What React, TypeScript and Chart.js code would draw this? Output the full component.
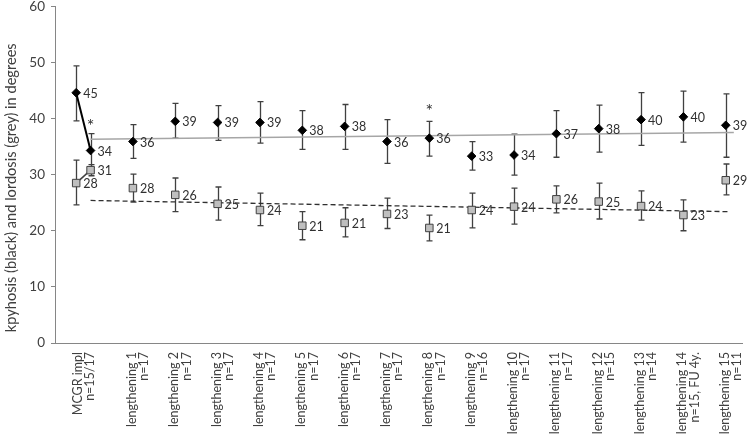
import React, { useEffect, useRef } from 'react';
import { Chart, registerables } from 'chart.js';
Chart.register(...registerables);

const categories: string[][] = [
  ['MCGR impl', 'n=15/17'],
  ['lengthening 1', 'n=17'],
  ['lengthening 2', 'n=17'],
  ['lengthening 3', 'n=17'],
  ['lengthening 4', 'n=17'],
  ['lengthening 5', 'n=17'],
  ['lengthening 6', 'n=17'],
  ['lengthening 7', 'n=17'],
  ['lengthening 8', 'n=17'],
  ['lengthening 9', 'n=16'],
  ['lengthening 10', 'n=17'],
  ['lengthening 11', 'n=17'],
  ['lengthening 12', 'n=15'],
  ['lengthening 13', 'n=14'],
  ['lengthening 14', 'n=15, FU 4y.'],
  ['lengthening 15', 'n=11'],
];
const tickPositions = [-0.27, 1, 2, 3, 4, 5, 6, 7, 8, 9, 10, 11, 12, 13, 14, 15];
const xPositions = [-0.34, 0, 1, 2, 3, 4, 5, 6, 7, 8, 9, 10, 11, 12, 13, 14, 15];

const kyphosis = [44.6, 34.3, 35.9, 39.5, 39.3, 39.3, 37.9, 38.6, 35.9, 36.5, 33.3, 33.5, 37.3, 38.2, 39.8, 40.3, 38.8];
const kyphosisHigh = [49.4, 37.3, 38.9, 42.7, 42.3, 43.0, 41.4, 42.5, 39.8, 39.5, 35.9, 37.2, 41.4, 42.4, 44.6, 44.9, 44.4];
const kyphosisLow = [39.6, 31.3, 32.9, 36.5, 36.1, 35.6, 34.5, 34.5, 32.0, 33.3, 30.8, 29.9, 33.1, 34.0, 35.2, 35.8, 33.1];
const kyphosisLabels = ['45', '34', '36', '39', '39', '39', '38', '38', '36', '36', '33', '34', '37', '38', '40', '40', '39'];

const lordosis = [28.5, 30.8, 27.6, 26.4, 24.8, 23.7, 20.9, 21.4, 23.0, 20.5, 23.7, 24.3, 25.6, 25.2, 24.4, 22.8, 29.0];
const lordosisHigh = [32.6, 31.8, 30.1, 29.4, 27.8, 26.7, 23.4, 24.1, 25.8, 22.8, 26.7, 27.6, 28.0, 28.5, 27.1, 25.5, 31.9];
const lordosisLow = [24.6, 29.8, 25.1, 23.4, 21.9, 20.9, 18.4, 18.9, 20.4, 18.2, 20.5, 21.2, 23.2, 22.1, 21.9, 20.0, 26.4];
const lordosisLabels = ['28', '31', '28', '26', '25', '24', '21', '21', '23', '21', '24', '24', '26', '25', '24', '23', '29'];

const kyphosisTrendX = [0, 15.19];
const kyphosisTrend = [36.3, 37.5];
const lordosisTrendX = [0, 15.1];
const lordosisTrend = [25.4, 23.4];

const asteriskX = [0, 8];
const asteriskY = [39.3, 42.0];

const yTitle = 'kpyhosis (black) and lordosis (grey) in degrees       ';
const FONT = 'Lato';
const TEXT = '#404040';
const AXIS = '#868686';

const overlayPlugin = {
  id: 'overlay',
  beforeDatasetsDraw(chart: any) {
    const ctx = chart.ctx;
    const xs = chart.scales.x;
    const ys = chart.scales.y;
    ctx.save();
    ctx.strokeStyle = '#404040';
    ctx.lineWidth = 1.3;
    const sets = [
      { hi: lordosisHigh, lo: lordosisLow },
      { hi: kyphosisHigh, lo: kyphosisLow },
    ];
    sets.forEach(({ hi, lo }) => {
      xPositions.forEach((xv, i) => {
        const px = Math.round(xs.getPixelForValue(xv)) + 0.5;
        const y1 = ys.getPixelForValue(hi[i]);
        const y2 = ys.getPixelForValue(lo[i]);
        ctx.beginPath();
        ctx.moveTo(px, y1);
        ctx.lineTo(px, y2);
        ctx.moveTo(px - 3, y1);
        ctx.lineTo(px + 3, y1);
        ctx.moveTo(px - 3, y2);
        ctx.lineTo(px + 3, y2);
        ctx.stroke();
      });
    });
    ctx.restore();
  },
  afterDatasetsDraw(chart: any) {
    const ctx = chart.ctx;
    const xs = chart.scales.x;
    const ys = chart.scales.y;
    ctx.save();
    ctx.fillStyle = '#303030';
    ctx.font = `12.5px ${FONT}`;
    ctx.textAlign = 'left';
    ctx.textBaseline = 'middle';
    const put = (vals: number[], labels: string[]) => {
      xPositions.forEach((xv, i) => {
        ctx.fillText(labels[i], xs.getPixelForValue(xv) + 7, ys.getPixelForValue(vals[i]) + 1);
      });
    };
    put(kyphosis, kyphosisLabels);
    put(lordosis, lordosisLabels);
    ctx.textAlign = 'center';
    ctx.font = `18px ${FONT}`;
    asteriskX.forEach((xv, i) => {
      ctx.fillText('*', xs.getPixelForValue(xv), ys.getPixelForValue(asteriskY[i]) + 4);
    });
    ctx.restore();
  },
};

export default function App() {
  const ref = useRef<HTMLCanvasElement | null>(null);
  useEffect(() => {
    if (!ref.current) return;
    const toPts = (xa: number[], ya: number[]) => xa.map((x, i) => ({ x, y: ya[i] }));
    const chart = new Chart(ref.current, {
      type: 'scatter',
      data: {
        datasets: [
          {
            label: 'kyphosis',
            data: toPts(xPositions, kyphosis),
            showLine: true,
            borderColor: '#000',
            borderWidth: 2,
            segment: { borderColor: (c: any) => (c.p0DataIndex === 0 ? '#000' : 'rgba(0,0,0,0)') },
            pointStyle: 'rectRot',
            pointRadius: 4.3,
            pointBackgroundColor: '#000',
            pointBorderColor: '#000',
            pointBorderWidth: 1,
          },
          {
            label: 'lordosis',
            data: toPts(xPositions, lordosis),
            showLine: true,
            borderColor: '#404040',
            borderWidth: 1.5,
            segment: { borderColor: (c: any) => (c.p0DataIndex === 0 ? '#404040' : 'rgba(0,0,0,0)') },
            pointStyle: 'rect',
            pointRadius: 5.3,
            pointBackgroundColor: '#bfbfbf',
            pointBorderColor: '#404040',
            pointBorderWidth: 1,
          },
          {
            label: 'kyphosis trend',
            data: toPts(kyphosisTrendX, kyphosisTrend),
            showLine: true,
            borderColor: '#a6a6a6',
            borderWidth: 1.5,
            pointRadius: 0,
          },
          {
            label: 'lordosis trend',
            data: toPts(lordosisTrendX, lordosisTrend),
            showLine: true,
            borderColor: '#303030',
            borderWidth: 1.3,
            borderDash: [5, 3],
            pointRadius: 0,
          },
        ],
      } as any,
      options: {
        animation: false,
        responsive: false,
        maintainAspectRatio: false,
        layout: { padding: { top: 4, right: 5, left: 0, bottom: 0 } },
        plugins: { legend: { display: false }, tooltip: { enabled: false } },
        scales: {
          x: {
            type: 'linear',
            min: -0.84,
            max: 15.4,
            afterBuildTicks: (s: any) => {
              s.ticks = tickPositions.map((v) => ({ value: v }));
            },
            afterFit: (s: any) => {
              s.height = 92;
              s.paddingLeft = 0;
              s.paddingRight = 0;
            },
            ticks: {
              autoSkip: false,
              minRotation: 90,
              maxRotation: 90,
              padding: 9,
              labelOffset: -1,
              color: TEXT,
              font: { family: FONT, size: 12.5, lineHeight: 0.98 },
              callback: (_v: any, i: number) => categories[i],
            },
            grid: { display: false, drawTicks: false },
            border: { display: true, color: AXIS, width: 1 },
          },
          y: {
            min: 0,
            max: 60,
            afterFit: (s: any) => {
              s.width = 55;
              s.paddingTop = 0;
              s.paddingBottom = 0;
            },
            ticks: {
              stepSize: 10,
              padding: 6,
              color: TEXT,
              font: { family: FONT, size: 13.5 },
            },
            grid: { display: true, drawOnChartArea: false, drawTicks: true, tickLength: 4, color: AXIS },
            border: { display: true, color: AXIS, width: 1 },
            title: {
              display: true,
              text: yTitle,
              color: TEXT,
              padding: { top: 3, bottom: 0 },
              font: { family: FONT, size: 14.6 },
            },
          },
        },
      } as any,
      plugins: [overlayPlugin],
    });
    return () => chart.destroy();
  }, []);
  return (
    <div style={{ position: 'absolute', left: 0, top: 0, width: 749, height: 435, overflow: 'hidden' }}>
      <canvas ref={ref} width={749} height={435} />
    </div>
  );
}
